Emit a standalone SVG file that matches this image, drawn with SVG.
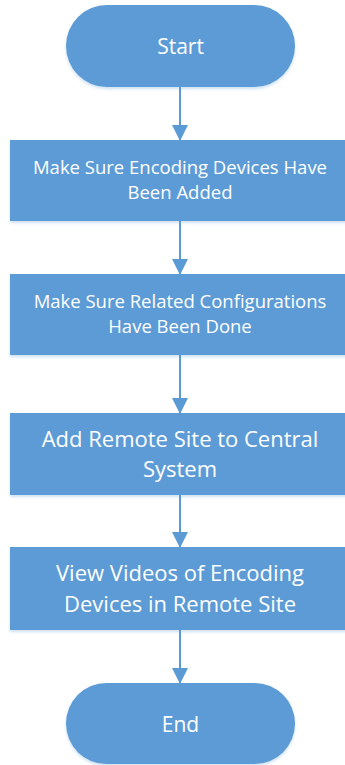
<svg xmlns="http://www.w3.org/2000/svg" width="345" height="765" viewBox="0 0 345 765">
<defs>
<style>
.n{fill:#5B9BD5;filter:url(#sh)}
.t{fill:#fff;font-family:"Open Sans","Noto Sans",sans-serif;text-anchor:middle}
.s{font-size:18.5px}
.l{font-size:22px}
.p{font-size:21px}
.c{stroke:#5B9BD5;stroke-width:2;fill:none;marker-end:url(#ah)}
</style>
<filter id="sh" x="-10%" y="-10%" width="120%" height="130%">
<feDropShadow dx="0" dy="2" stdDeviation="1.5" flood-color="#5B9BD5" flood-opacity="0.3"/>
</filter>
<marker id="ah" markerUnits="userSpaceOnUse" markerWidth="16" markerHeight="17" refX="15" refY="8" orient="auto">
<path d="M0,0 L16,8 L0,16 Z" fill="#5B9BD5" transform="translate(0,0)"/>
</marker>
</defs>
<rect width="345" height="765" fill="#fff"/>
<g id="connectors">
<line class="c" x1="180" y1="87" x2="180" y2="140"/>
<line class="c" x1="180" y1="221" x2="180" y2="274"/>
<line class="c" x1="180" y1="355" x2="180" y2="413"/>
<line class="c" x1="180" y1="495" x2="180" y2="547"/>
<line class="c" x1="180" y1="630" x2="180" y2="683"/>
</g>
<g id="start">
<rect class="n" x="66" y="5" width="229" height="82" rx="41"/>
<text class="t p" x="180.5" y="54">Start</text>
</g>
<g id="step1">
<rect class="n" x="10" y="140" width="340" height="81"/>
<text class="t s" x="180" y="174">Make Sure Encoding Devices Have</text>
<text class="t s" x="180" y="199">Been Added</text>
</g>
<g id="step2">
<rect class="n" x="10" y="274" width="340" height="81"/>
<text class="t s" x="180" y="308">Make Sure Related Configurations</text>
<text class="t s" x="180" y="333">Have Been Done</text>
</g>
<g id="step3">
<rect class="n" x="10" y="413" width="340" height="82"/>
<text class="t l" x="180" y="446.5">Add Remote Site to Central</text>
<text class="t l" x="180" y="477">System</text>
</g>
<g id="step4">
<rect class="n" x="10" y="547" width="340" height="83"/>
<text class="t l" x="180" y="580.5">View Videos of Encoding</text>
<text class="t l" x="180" y="611.5">Devices in Remote Site</text>
</g>
<g id="end">
<rect class="n" x="66" y="683" width="229" height="81" rx="40.5"/>
<text class="t p" x="180.5" y="731.5">End</text>
</g>
</svg>
